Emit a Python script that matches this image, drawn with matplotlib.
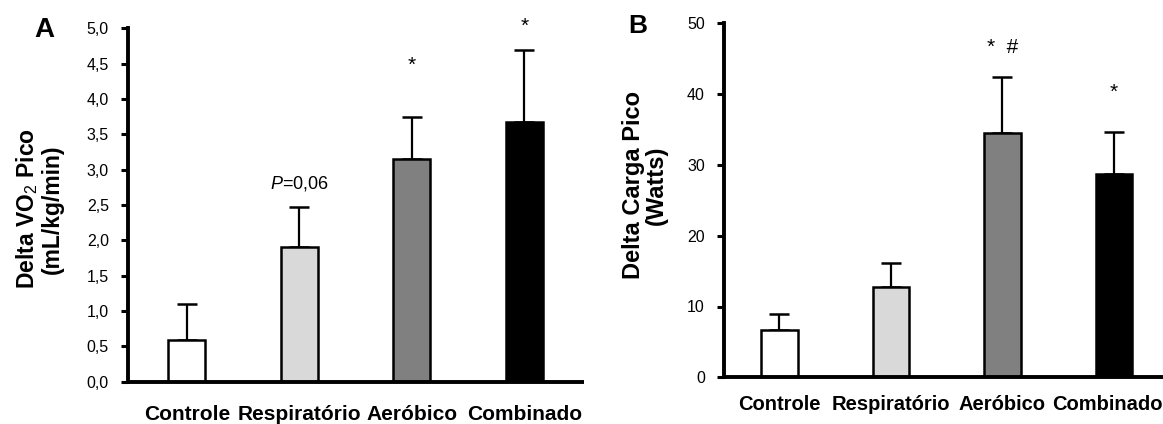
import matplotlib
matplotlib.use("Agg")
import matplotlib.pyplot as plt
import matplotlib.transforms as mtransforms
import numpy as np

plt.rcParams["font.family"] = ["Liberation Sans", "DejaVu Sans"]
plt.rcParams["mathtext.fontset"] = "custom"
plt.rcParams["mathtext.rm"] = "Liberation Sans"
plt.rcParams["mathtext.it"] = "Liberation Sans:italic"
plt.rcParams["mathtext.bf"] = "Liberation Sans:bold"

# Delta (post - pre) per training group, mean and SEM
groups = ["Controle", "Respiratório", "Aeróbico", "Combinado"]
vo2_mean = [0.59, 1.91, 3.15, 3.67]
vo2_sem = [0.51, 0.56, 0.60, 1.02]
carga_mean = [6.7, 12.8, 34.5, 28.7]
carga_sem = [2.2, 3.4, 7.9, 5.9]

# significance marks above the bars
vo2_marks = ["", "$P$=0,06", "*", "*"]
vo2_mark_y = [0, 2.80, 4.47, 5.03]
carga_marks = ["", "", "*  #", "*"]
carga_mark_y = [0, 0, 46.6, 40.2]

vo2_ticks = np.arange(0, 5.01, 0.5)
carga_ticks = [0, 10, 20, 30, 40, 50]

bar_colors = ["white", "#d9d9d9", "#808080", "black"]

W, H = 1163, 424
fig = plt.figure(figsize=(W / 100, H / 100), dpi=100)


def px_axes(left, right, top, bottom):
    return fig.add_axes([left / W, 1 - bottom / H, (right - left) / W, (bottom - top) / H])


def draw_panel(ax, means, sems, marks, mark_y, ticks, ylim, xlim, tick_fmt, lab_size, lab_pad):
    x = np.arange(len(groups))
    ax.bar(x, means, width=0.33, color=bar_colors, edgecolor="black", linewidth=1.8, zorder=2)
    ax.errorbar(x, means, yerr=[np.zeros(len(sems)), sems], fmt="none", ecolor="black",
                elinewidth=1.6, capsize=7, capthick=1.8, zorder=1)
    for xi, txt, yi in zip(x, marks, mark_y):
        if txt:
            size = 13 if "P" in txt else 15
            ax.text(xi, yi, txt, ha="center", va="center", fontsize=size)
    ax.set_xlim(*xlim)
    ax.set_ylim(*ylim)
    ax.set_yticks(ticks)
    ax.set_yticklabels([tick_fmt(t) for t in ticks], fontsize=11.5)
    ax.set_xticks(x)
    ax.set_xticklabels(groups, fontsize=lab_size, fontweight="bold")
    ax.tick_params(axis="x", length=0, pad=lab_pad)
    ax.tick_params(axis="y", length=5, width=2.2, pad=9, direction="out")
    for side in ("top", "right"):
        ax.spines[side].set_visible(False)
    for side in ("left", "bottom"):
        ax.spines[side].set_linewidth(2.8)
    ax.spines["bottom"].set_capstyle("butt")


# ── Panel A: VO2 peak ──────────────────────────────────────────────
axA = px_axes(128.3, 584, 28.3, 381.7)
draw_panel(axA, vo2_mean, vo2_sem, vo2_marks, vo2_mark_y, vo2_ticks, (0, 5), (-0.52, 3.53),
           lambda t: f"{t:.1f}".replace(".", ","), 15, 17)
fig.text(39 / W, 1 - 209 / H, "Delta VO$_\\mathrm{2}$ Pico\n(mL/kg/min)", rotation=90,
         ha="center", va="center", fontsize=16.5, fontweight="bold", multialignment="center",
         linespacing=1.0)
fig.text(44 / W, 1 - 30 / H, "A", ha="center", va="center", fontsize=20, fontweight="bold")

# ── Panel B: peak load ─────────────────────────────────────────────
axB = px_axes(724.3, 1163, 23.3, 377.3)
draw_panel(axB, carga_mean, carga_sem, carga_marks, carga_mark_y, carga_ticks, (0, 50),
           (-0.494, 3.44), lambda t: f"{t:d}", 14.5, 13)
# last label sits against the right edge
last = axB.get_xticklabels()[-1]
last.set_transform(last.get_transform() + mtransforms.ScaledTranslation(-7 / 100, 0, fig.dpi_scale_trans))
fig.text(645 / W, 1 - 185 / H, "Delta Carga Pico\n(Watts)", rotation=90,
         ha="center", va="center", fontsize=17, fontweight="bold", multialignment="center",
         linespacing=1.0)
fig.text(638 / W, 1 - 26 / H, "B", ha="center", va="center", fontsize=19, fontweight="bold")

fig.savefig("out.png", dpi=100)
